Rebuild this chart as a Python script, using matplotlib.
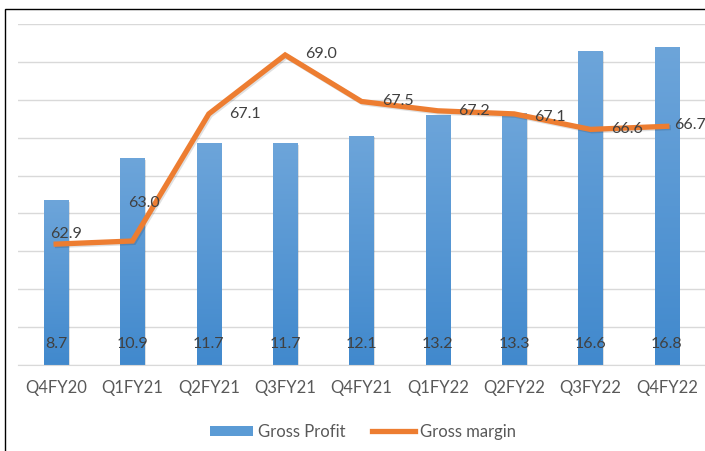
import numpy as np
import matplotlib
matplotlib.use("Agg")
import matplotlib.pyplot as plt
import matplotlib.patheffects as pe
from matplotlib.patches import Rectangle
from matplotlib.lines import Line2D
from matplotlib.patches import Patch

plt.rcParams['font.family'] = ['Lato', 'DejaVu Sans']

quarters = ["Q4FY20", "Q1FY21", "Q2FY21", "Q3FY21", "Q4FY21",
            "Q1FY22", "Q2FY22", "Q3FY22", "Q4FY22"]
gross_profit = [8.7, 10.9, 11.7, 11.7, 12.1, 13.2, 13.3, 16.6, 16.8]
gross_margin = [62.9, 63.0, 67.1, 69.0, 67.5, 67.2, 67.1, 66.6, 66.7]

bar_col = "#5B9BD5"
line_col = "#ED7D31"
txt_col = "#404040"

fig = plt.figure(figsize=(7.05, 4.51), dpi=100)
ax = fig.add_axes([0.0255, 0.1907, 0.9745, 0.7561])
x = np.arange(len(quarters))

# bars: lighter at the top, darker at the bottom
bars = ax.bar(x, gross_profit, width=0.32, color=bar_col, zorder=2,
              path_effects=[pe.SimplePatchShadow(offset=(1, -1), alpha=0.15), pe.Normal()])
grad = np.linspace(0, 1, 256).reshape(-1, 1)
cmap = matplotlib.colors.LinearSegmentedColormap.from_list("b", ["#4189CD", "#6DA5DA"])
for b in bars:
    im = ax.imshow(grad, extent=[b.get_x(), b.get_x() + b.get_width(), 0, b.get_height()],
                   aspect="auto", cmap=cmap, zorder=2.1, origin="lower")
    im.set_clip_path(b)

ax.set_xlim(-0.5, len(quarters) - 0.5)
ax.set_ylim(0, 18)
ax.set_yticks(np.arange(0, 19, 2))
ax.yaxis.grid(True, color="#D9D9D9", linewidth=1)
ax.set_axisbelow(True)
ax.tick_params(axis="y", length=0, labelleft=False)
ax.tick_params(axis="x", length=0, pad=11, labelsize=12, colors="#595959")
ax.set_xticks(x)
ax.set_xticklabels(quarters)
for s in ["top", "right", "left"]:
    ax.spines[s].set_visible(False)
ax.spines["bottom"].set_color("#D9D9D9")

for xi, v in zip(x, gross_profit):
    ax.text(xi, 1.1, f"{v:.1f}", ha="center", va="center", fontsize=11.5, color=txt_col, zorder=5)

ax2 = ax.twinx()
ax2.set_ylim(59, 70)
ax2.axis("off")
ax2.plot(x, gross_margin, color=line_col, linewidth=3.8, solid_joinstyle="miter", zorder=3,
         path_effects=[pe.SimpleLineShadow(offset=(1, -1), alpha=0.12), pe.Normal()])

# label offsets in points (Excel "right" position, first two moved by hand)
offs = [(7, 7), (8, 27), (26, 0), (26, 1), (26, 0), (26, 0), (26, -2), (26, 0), (17, 1)]
for xi, v, (dx, dy) in zip(x, gross_margin, offs):
    ax2.annotate(f"{v:.1f}", (xi, v), xytext=(dx, dy), textcoords="offset points",
                 ha="center", va="center", fontsize=11.5, color=txt_col, zorder=6)

handles = [Patch(facecolor=bar_col), Line2D([], [], color=line_col, linewidth=3.8)]
fig.legend(handles, ["Gross Profit", "Gross margin"], loc="center", bbox_to_anchor=(0.515, 0.042),
           ncol=2, frameon=False, fontsize=12, labelcolor="#595959",
           handlelength=2.6, handleheight=0.6, columnspacing=1.6, handletextpad=0.3)

# outer frame, running off the right and bottom edges
fig.patches.append(Rectangle((5 / 705, -0.05), 1.2, 1 - 9 / 451 + 0.05, transform=fig.transFigure,
                             fill=False, edgecolor="black", linewidth=1))

fig.savefig("out.png", dpi=100)
